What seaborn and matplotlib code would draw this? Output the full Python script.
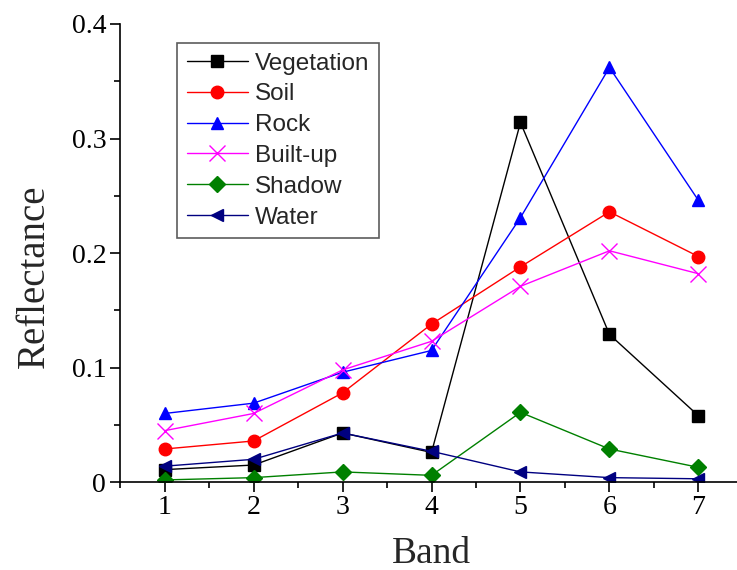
import pandas as pd
import matplotlib
matplotlib.use("Agg")
import matplotlib.pyplot as plt
from matplotlib.ticker import MultipleLocator, FuncFormatter
import seaborn as sns

bands = [1, 2, 3, 4, 5, 6, 7]
vegetation = [0.011, 0.015, 0.043, 0.026, 0.314, 0.129, 0.058]
soil = [0.029, 0.036, 0.078, 0.138, 0.188, 0.236, 0.197]
rock = [0.060, 0.069, 0.096, 0.115, 0.231, 0.362, 0.246]
built_up = [0.045, 0.060, 0.098, 0.123, 0.171, 0.202, 0.182]
shadow = [0.002, 0.004, 0.009, 0.006, 0.061, 0.029, 0.013]
water = [0.014, 0.020, 0.043, 0.027, 0.009, 0.004, 0.003]

classes = ["Vegetation", "Soil", "Rock", "Built-up", "Shadow", "Water"]
series = [vegetation, soil, rock, built_up, shadow, water]
colors = ["black", "#ff0000", "#0000ff", "#ff00ff", "#008000", "#000080"]
markers = ["s", "o", "^", "x", "D", "<"]
sizes = [8, 9, 9, 11, 8, 9]

# long-form table for seaborn
rows = []
for name, vals in zip(classes, series):
    for b, v in zip(bands, vals):
        rows.append({"Band": b, "Reflectance": v, "Class": name})
df = pd.DataFrame(rows)

sns.set_style("ticks")
fig = plt.figure(figsize=(7.37, 5.70), dpi=100)
ax = fig.add_axes([0.163, 0.154, 0.845, 0.804])

for name, c, m, s in zip(classes, colors, markers, sizes):
    sub = df[df["Class"] == name]
    sns.lineplot(data=sub, x="Band", y="Reflectance", ax=ax, color=c,
                 marker=m, markersize=s, markeredgecolor=c, markeredgewidth=1,
                 linewidth=1, label=name)

ax.set_xlim(0.5, 7.5)
ax.set_ylim(0, 0.4)
ax.xaxis.set_major_locator(MultipleLocator(1))
ax.xaxis.set_minor_locator(MultipleLocator(0.5))
ax.yaxis.set_major_locator(MultipleLocator(0.1))
ax.yaxis.set_minor_locator(MultipleLocator(0.05))
ax.yaxis.set_major_formatter(FuncFormatter(lambda v, p: "0" if abs(v) < 1e-9 else f"{v:.1f}"))
ax.tick_params(which="major", length=7, width=1.2, direction="out", colors="black", pad=3)
ax.tick_params(which="minor", length=4, width=1.2, direction="out", colors="black")
ax.tick_params(axis="x", pad=2)
for lab in ax.get_xticklabels() + ax.get_yticklabels():
    lab.set_fontfamily("Liberation Serif")
    lab.set_fontsize(20)

sns.despine(ax=ax)
for side in ["left", "bottom"]:
    ax.spines[side].set_linewidth(1.2)
    ax.spines[side].set_color("black")

ax.set_xlabel("Band", fontfamily="Liberation Serif", fontsize=27, labelpad=12)
ax.set_ylabel("Reflectance", fontfamily="Liberation Serif", fontsize=28)
ax.yaxis.set_label_coords(-0.108, 0.45)

leg = ax.legend(loc="upper left", bbox_to_anchor=(0.0915, 0.9585), borderaxespad=0,
                frameon=True, fancybox=False, edgecolor="#333333", handlelength=2.5,
                borderpad=0.4, labelspacing=0.36, handletextpad=0.3,
                prop={"family": "Liberation Sans", "size": 17.5})
leg.get_frame().set_linewidth(1.2)

fig.savefig("out.png", dpi=100)
